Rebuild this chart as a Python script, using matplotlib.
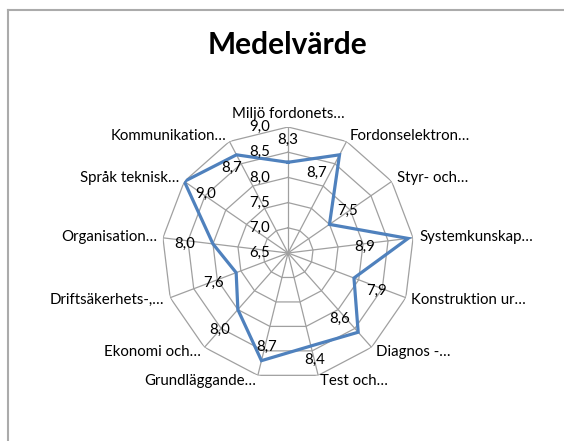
import numpy as np
import matplotlib
matplotlib.use("Agg")
import matplotlib.pyplot as plt
from matplotlib.lines import Line2D

title = "Medelvärde"
categories = ["Miljö fordonets…", "Fordonselektron…", "Styr- och…", "Systemkunskap…",
              "Konstruktion ur…", "Diagnos -…", "Test och…", "Grundläggande…",
              "Ekonomi och…", "Driftsäkerhets-,…", "Organisation…", "Språk teknisk…",
              "Kommunikation…"]
values = [8.3, 8.7, 7.5, 8.9, 7.9, 8.6, 8.4, 8.7, 8.0, 7.6, 8.0, 9.0, 8.7]
rticks = [6.5, 7.0, 7.5, 8.0, 8.5, 9.0]

# data label offsets in pixels (layout only)
label_offsets = [(0, 22), (-23, -18), (18, 13), (-43, -8), (23, -13), (-19, 13),
                 (4, -14), (5, 14), (-18, -20), (-23, -10), (-28, 0), (21, -12), (-5, -13)]

FONT = ["Lato", "DejaVu Sans"]
plt.rcParams['font.family'] = FONT

W, H = 564, 441
fig = plt.figure(figsize=(W / 100, H / 100), dpi=100)
fig.patch.set_facecolor("white")

cx, cy, R = 288, 253, 126
ax = fig.add_axes([(cx - R) / W, (H - cy - R) / H, 2 * R / W, 2 * R / H], projection="polar")
ax.set_theta_zero_location("N")
ax.set_theta_direction(-1)
ax.set_ylim(rticks[0], rticks[-1])
ax.grid(False)
ax.spines["polar"].set_visible(False)
ax.set_xticks([])
ax.set_yticks([])
ax.patch.set_alpha(0)

n = len(categories)
theta = np.arange(n) * 2 * np.pi / n
theta_c = np.append(theta, theta[0])

gcol = "#a0a0a0"
for r in rticks[1:]:
    ax.plot(theta_c, [r] * (n + 1), color=gcol, lw=0.9, zorder=1)
for t in theta:
    ax.plot([t, t], [rticks[0], rticks[-1]], color=gcol, lw=0.9, zorder=1)

vals_c = values + [values[0]]
ax.plot(theta_c, vals_c, color="#4F81BD", lw=2.3, zorder=3, solid_joinstyle="miter")

def fmt(v):
    return f"{v:.1f}".replace(".", ",")

FS = 10.8

# radial tick labels
for r in rticks:
    ax.annotate(fmt(r), xy=(0, r), xytext=(-18, 0), textcoords="offset pixels",
                ha="right", va="center", fontsize=FS, color="#000000", zorder=4)

# data labels
for t, v, (dx, dy) in zip(theta, values, label_offsets):
    ax.annotate(fmt(v), xy=(t, v), xytext=(dx, dy), textcoords="offset pixels",
                ha="center", va="center", fontsize=FS, color="#000000", zorder=4)

# category labels
for t, name in zip(theta, categories):
    s, c = np.sin(t), np.cos(t)
    dx, dy = 6 * s, 6 * c
    if abs(s) < 0.1:
        ha = "center"
    elif s > 0:
        ha = "left"
    else:
        ha = "right"
    va = "bottom" if c > 0.95 else "center"
    ax.annotate(name, xy=(t, rticks[-1]), xytext=(dx, dy), textcoords="offset pixels",
                ha=ha, va=va, fontsize=FS, color="#000000", annotation_clip=False)

fig.text(288 / W, 1 - 45 / H, title, ha="center", va="center", fontsize=21.5,
         fontweight="bold", color="#000000")

# chart border (top and left visible)
fig.add_artist(Line2D([7.5 / W, 1.0], [1 - 10 / H, 1 - 10 / H], color="#ababab", lw=1.5,
                      transform=fig.transFigure))
fig.add_artist(Line2D([7.5 / W, 7.5 / W], [1 - 10 / H, 0], color="#ababab", lw=1.5,
                      transform=fig.transFigure))

fig.savefig("out.png", dpi=100)
